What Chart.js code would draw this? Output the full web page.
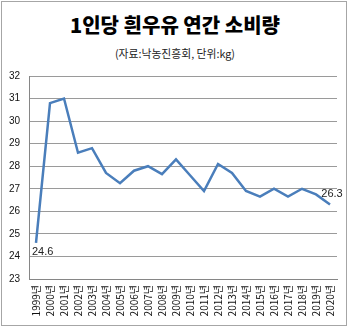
<!DOCTYPE html>
<html><head><meta charset="utf-8">
<script src="https://cdn.jsdelivr.net/npm/chart.js@4"></script>
<style>
html,body{margin:0;padding:0;background:#fff;}
#wrap{position:relative;width:350px;height:328px;}
#frame{position:absolute;left:1px;top:1px;width:346px;height:325px;border:1px solid #a6a6a6;box-sizing:border-box;}
#title{position:absolute;left:0;width:350px;top:11px;text-align:center;font-family:"Noto Sans CJK KR";font-weight:900;font-size:20px;color:#000;line-height:28px;}
#sub{position:absolute;left:0;width:350px;top:45px;text-align:center;font-family:"Noto Sans CJK KR";font-size:10.8px;color:#222;line-height:16px;}
canvas{position:absolute;left:0;top:0;}
</style></head>
<body><div id="wrap">
<div id="frame"></div>
<div id="title">1인당 흰우유 연간 소비량</div>
<div id="sub">(자료:낙농진흥회, 단위:kg)</div>
<canvas id="c" width="350" height="328"></canvas>
</div>
<script>
const years = ["1999년","2000년","2001년","2002년","2003년","2004년","2005년","2006년","2007년","2008년","2009년","2010년","2011년","2012년","2013년","2014년","2015년","2016년","2017년","2018년","2019년","2020년"];
const consumption = [24.6,30.8,31.0,28.6,28.8,27.7,27.25,27.8,28.0,27.65,28.3,27.6,26.9,28.1,27.7,26.9,26.65,27.0,26.65,27.0,26.75,26.3];
const yTicks = [23,24,25,26,27,28,29,30,31,32];
const labelIdx = [0, 21];

const endLabels = {
  id:'endLabels',
  afterDatasetsDraw(chart){
    const ctx = chart.ctx;
    const meta = chart.getDatasetMeta(0);
    ctx.save();
    ctx.font = '11px "Liberation Sans", Arial, sans-serif';
    ctx.fillStyle = '#222';
    ctx.textBaseline = 'middle';
    labelIdx.forEach(i=>{
      const p = meta.data[i];
      const t = consumption[i].toFixed(1);
      if(i===0){ ctx.textAlign='left'; ctx.fillText(t, p.x-4, p.y+9); }
      else { ctx.textAlign='center'; ctx.fillText(t, p.x+2, p.y-11); }
    });
    ctx.restore();
  }
};

new Chart(document.getElementById('c'), {
  type:'line',
  data:{labels:years, datasets:[{data:consumption, borderColor:'#4a7ebb', borderWidth:2.5, pointRadius:0, tension:0, fill:false}]},
  options:{
    responsive:false, animation:false,
    layout:{padding:{left:4,right:13,top:76,bottom:4}},
    plugins:{legend:{display:false}, tooltip:{enabled:false}},
    scales:{
      x:{
        offset:true,
        grid:{display:false, drawTicks:false},
        border:{display:true, color:'#868686', width:1},
        ticks:{autoSkip:false, maxRotation:90, minRotation:90, padding:6, color:'#111', font:{family:'"Noto Sans CJK KR"', size:10}},
        afterFit(s){ s.height = 45; }
      },
      y:{
        min:23, max:32,
        afterBuildTicks(s){ s.ticks = yTicks.map(v=>({value:v})); },
        grid:{color:'#9a9a9a', drawTicks:false, lineWidth:1},
        border:{display:true, color:'#868686', width:1},
        ticks:{padding:9, color:'#111', font:{family:'"Liberation Sans", Arial, sans-serif', size:10}},
        afterFit(s){ s.width = 25; }
      }
    }
  },
  plugins:[endLabels]
});
</script>
</body></html>
